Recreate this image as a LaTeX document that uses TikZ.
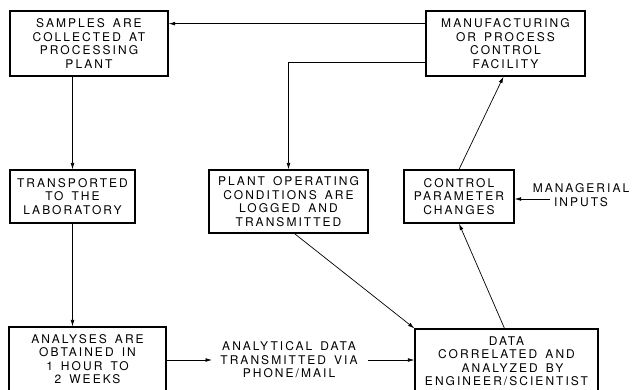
\documentclass[tikz,border=0pt]{standalone}
\usepackage{fontspec}
\newfontfamily\lbl[LetterSpace=17,WordSpace=1.5]{TeX Gyre Heros}
\usetikzlibrary{arrows.meta,calc}
\begin{document}
\begin{tikzpicture}[x=1pt,y=-1pt,
  box/.style={draw,line width=1.2pt,inner sep=0pt,align=center,
    font=\lbl\fontsize{12}{13.5}\selectfont},
  lab/.style={inner sep=0pt,align=center,font=\lbl\fontsize{12}{13.5}\selectfont},
  arr/.style={line width=0.7pt,-{Latex[length=6.5pt,width=3.8pt]}}]
\useasboundingbox (0,0) rectangle (633,389);
\fill[white] (0,0) rectangle (633,389);
\clip (0,0) rectangle (633,389);
\node[box,minimum width=158pt,minimum height=65pt] (samples) at (89,43.5)
  {SAMPLES ARE\\COLLECTED AT\\PROCESSING\\PLANT};
\node[box,minimum width=159pt,minimum height=65pt] (manuf) at (505.5,43.5)
  {MANUFACTURING\\OR PROCESS\\CONTROL\\FACILITY};
\node[box,minimum width=125pt,minimum height=53pt] (transp) at (72.5,196.5)
  {TRANSPORTED\\TO THE\\LABORATORY};
\node[box,minimum width=159pt,minimum height=63pt] (plant) at (288.5,201.5)
  {PLANT OPERATING\\CONDITIONS ARE\\LOGGED AND\\TRANSMITTED};
\node[box,minimum width=110pt,minimum height=53pt] (control) at (459,196.5)
  {CONTROL\\PARAMETER\\CHANGES};
\node[box,minimum width=157pt,minimum height=64pt] (analyses) at (87.5,359)
  {ANALYSES ARE\\OBTAINED IN\\1 HOUR TO\\2 WEEKS};
\node[box,minimum width=183pt,minimum height=64pt] (data) at (506.5,361)
  {DATA\\CORRELATED AND\\\hspace{12pt}ANALYZED BY\\ENGINEER/SCIENTIST};
\node[lab] (trans) at (289,360) {ANALYTICAL DATA\\TRANSMITTED VIA\\PHONE/MAIL};
\node[lab] (mgr) at (581,195) {MANAGERIAL\\INPUTS};
\coordinate (m1) at ($(manuf.north west)!0.2!(manuf.south west)$);
\coordinate (m2) at ($(manuf.north west)!0.785!(manuf.south west)$);
\coordinate (mgrin) at (550,199);
\coordinate (tin) at (212,360);
\coordinate (tout) at (368,360);
\draw[arr] (m1) -- (samples.east |- m1);
\draw[arr] (m2) -| (plant.north);
\draw[arr] (samples.south -| transp.north) -- (transp.north);
\draw[arr] (transp.south) -- (transp.south |- analyses.north);
\draw[arr] (analyses.east |- tin) -- (tin);
\draw[arr] (tout) -- (data.west |- tout);
\draw[arr] ($(plant.south)+(6,0)$) -- (data.north west);
\draw[arr] ($(data.north)+(-2,0)$) -- (control.south);
\draw[arr] (control.north) -- ($(manuf.south)+(-2,0)$);
\draw[arr] (mgrin) -- (control.east |- mgrin);
\end{tikzpicture}
\end{document}
